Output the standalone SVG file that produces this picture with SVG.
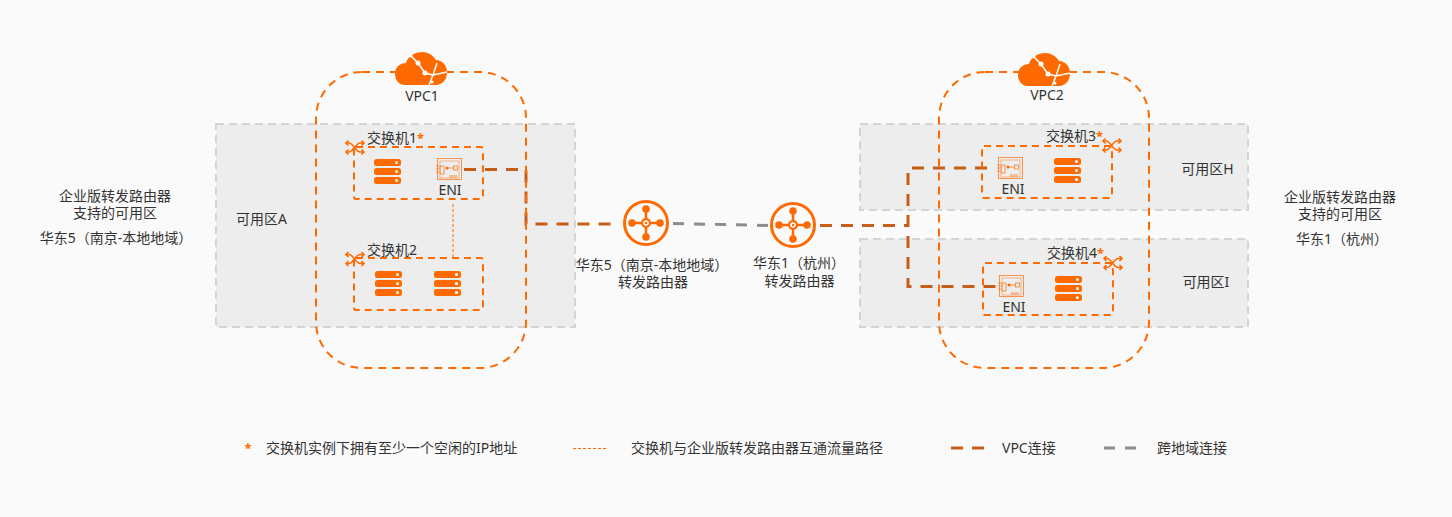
<svg xmlns="http://www.w3.org/2000/svg" xmlns:xlink="http://www.w3.org/1999/xlink" width="1452" height="517" viewBox="0 0 1452 517">
<style>
text{font-family:"Noto Sans","Noto Sans CJK SC",sans-serif;font-size:14px;fill:#333;text-anchor:middle}
.s{text-anchor:start}
.st{fill:#ff6a00;font-size:13px;font-weight:700}
.zone{fill:#ededed;stroke:#d4d4d4;stroke-width:2;stroke-dasharray:8 5}
.vpc{fill:none;stroke:#ff6a00;stroke-width:2;stroke-dasharray:8 6}
.sw{fill:none;stroke:#ff6a00;stroke-width:2;stroke-dasharray:7 5}
.vc{fill:none;stroke:#c4560f;stroke-width:3;stroke-dasharray:12 9;opacity:.95}
.rg{fill:none;stroke:#8c8c8c;stroke-width:3;stroke-dasharray:11 10}
.thin{fill:none;stroke:#ff6a00;stroke-width:1;stroke-dasharray:3 2}
.ln{fill:none;stroke:#ff6a00}
</style>
<defs>
<symbol id="server" overflow="visible">
<g fill="#ff6a00"><rect width="27" height="7" rx="2.5"/><rect y="9" width="27" height="7" rx="2.5"/><rect y="18" width="27" height="7" rx="2.5"/></g>
<g fill="#fff"><circle cx="22.5" cy="3.5" r="1.5"/><circle cx="22.5" cy="12.5" r="1.5"/><circle cx="22.5" cy="21.5" r="1.500"/></g>
</symbol>
<symbol id="eni" overflow="visible">
<g class="ln" stroke-width=".8" opacity=".85"><rect x=".5" y=".5" width="24" height="21"/><rect x="3" y="3" width="19" height="17" stroke-width=".5"/><rect x="3" y="8" width="4" height="8"/><rect x="16.500" y="8" width="4" height="4"/><path d="M9 10h7M13 17v3M15 17v3M17 17v3M19 17v3M-1 8h3M-1 11h3M-1 14h3"/></g>
<circle cx="10" cy="10" r="1.500" fill="#ff6a00"/>
</symbol>
<symbol id="switch" overflow="visible">
<g class="ln" stroke-width="1.600"><path d="M0 -4.500H3C7 -4.500 10 4.500 14 4.500H18M0 4.500H3C7 4.500 10 -4.500 14 -4.500H18"/><path d="M2.500 -7 0 -4.500 2.500 -2M2.500 2 0 4.500 2.500 7M15.500 -7 18 -4.500 15.500 -2M15.500 2 18 4.500 15.500 7"/></g>
</symbol>
<symbol id="cloud" overflow="visible">
<path fill="#ff6a00" d="M10 33C3 33 0 27 0 22 0 15 5 11 11 11 13 4 20 0 27 0 33 0 38 3 41 8 47 8 52 13 52 20 52 28 47 33 41 33Z"/>
<g fill="none" stroke="#fff" stroke-width="1.500"><path d="M15 3 23 11 30 21 38 23M42 11 38 23 52 20M38 23 34 33"/></g>
<g fill="#fff"><circle cx="16" cy="4" r="1.500"/><circle cx="23" cy="11" r="2.500"/><circle cx="30" cy="21" r="2.500"/><circle cx="37" cy="30" r="1.500"/></g>
</symbol>
<symbol id="router" overflow="visible">
<circle cx="23" cy="23" r="21.500" fill="none" stroke="#ff6a00" stroke-width="3"/>
<g stroke="#ff6a00" stroke-width="2.500"><path d="M23 8V38M8 23H38"/></g>
<g fill="#ff6a00"><circle cx="23" cy="9" r="3.800"/><circle cx="23" cy="37" r="3.800"/><circle cx="9" cy="23" r="3.800"/><circle cx="37" cy="23" r="3.800"/><circle cx="23" cy="23" r="5"/></g>
<circle cx="23" cy="23" r="2.800" fill="#fff"/><circle cx="23" cy="23" r="1.200" fill="#ff6a00"/>
</symbol>
</defs>
<rect width="1452" height="517" fill="#fafafa"/>
<g id="zones">
<g id="zone-a"><rect class="zone" x="216" y="124" width="359" height="203"/><text x="261.500" y="224">可用区A</text></g>
<g id="zone-h"><rect class="zone" x="860" y="124" width="388" height="86"/><text x="1207.500" y="174">可用区H</text></g>
<g id="zone-i"><rect class="zone" x="860" y="239" width="388" height="88"/><text x="1206" y="287">可用区I</text></g>
</g>
<g id="connectors">
<path class="thin" d="M453 204V258"/>
<path class="vc" d="M464 169.500H526V224H612"/>
<path class="rg" d="M673 223.500 769 225.500"/>
<path class="vc" d="M820 225.500H908"/>
<path class="vc" d="M987 168H908V286.500H997"/>
</g>
<g id="vpc1"><rect class="vpc" x="316" y="72" width="210" height="296" rx="46"/><use href="#cloud" x="395" y="52"/><text x="422" y="101">VPC1</text></g>
<g id="vpc2"><rect class="vpc" x="939" y="72" width="210" height="296" rx="46"/><use href="#cloud" x="1018" y="53"/><text x="1047" y="100">VPC2</text></g>
<g id="switch1"><rect class="sw" x="354" y="147" width="129" height="52" rx="2"/><use href="#switch" x="346" y="147.500"/><use href="#server" x="374" y="159"/><use href="#eni" x="437" y="158"/><text class="s" x="367" y="143">交换机1<tspan class="st">*</tspan></text><text x="450" y="195">ENI</text></g>
<g id="switch2"><rect class="sw" x="354" y="258" width="129" height="52" rx="2"/><use href="#switch" x="346" y="259"/><use href="#server" x="375" y="271"/><use href="#server" x="434" y="271"/><text class="s" x="367" y="255">交换机2</text></g>
<g id="switch3"><rect class="sw" x="982" y="146" width="130" height="52" rx="2"/><use href="#switch" x="1103" y="145.500"/><use href="#eni" x="998" y="157"/><use href="#server" x="1054" y="158"/><text class="s" x="1046" y="141">交换机3<tspan class="st">*</tspan></text><text x="1013" y="194">ENI</text></g>
<g id="switch4"><rect class="sw" x="983" y="263" width="130" height="52" rx="2"/><use href="#switch" x="1104" y="263"/><use href="#eni" x="999" y="275"/><use href="#server" x="1055" y="276"/><text class="s" x="1047" y="258">交换机4<tspan class="st">*</tspan></text><text x="1014" y="312">ENI</text></g>
<g id="router1"><use href="#router" x="623" y="200"/><text x="652" y="270">华东5（南京-本地地域）</text><text x="653" y="287">转发路由器</text></g>
<g id="router2"><use href="#router" x="770" y="202"/><text x="799" y="268">华东1（杭州）</text><text x="799.500" y="286">转发路由器</text></g>
<g id="left-note"><text x="115" y="201">企业版转发路由器</text><text x="115" y="218">支持的可用区</text><text x="116" y="243">华东5（南京-本地地域）</text></g>
<g id="right-note"><text x="1340" y="202">企业版转发路由器</text><text x="1340" y="219">支持的可用区</text><text x="1342" y="244">华东1（杭州）</text></g>
<g id="legend">
<text class="st" x="248" y="453">*</text><text class="s" x="266" y="453">交换机实例下拥有至少一个空闲的IP地址</text>
<path class="thin" d="M573 448.500H607" stroke-dasharray="4 3"/><text class="s" x="631" y="453">交换机与企业版转发路由器互通流量路径</text>
<path class="vc" d="M951 448H986" stroke-dasharray="12 9"/><text class="s" x="1002" y="453">VPC连接</text>
<path class="rg" d="M1104 448H1137" stroke-dasharray="12 9"/><text class="s" x="1157" y="453">跨地域连接</text>
</g>
</svg>
